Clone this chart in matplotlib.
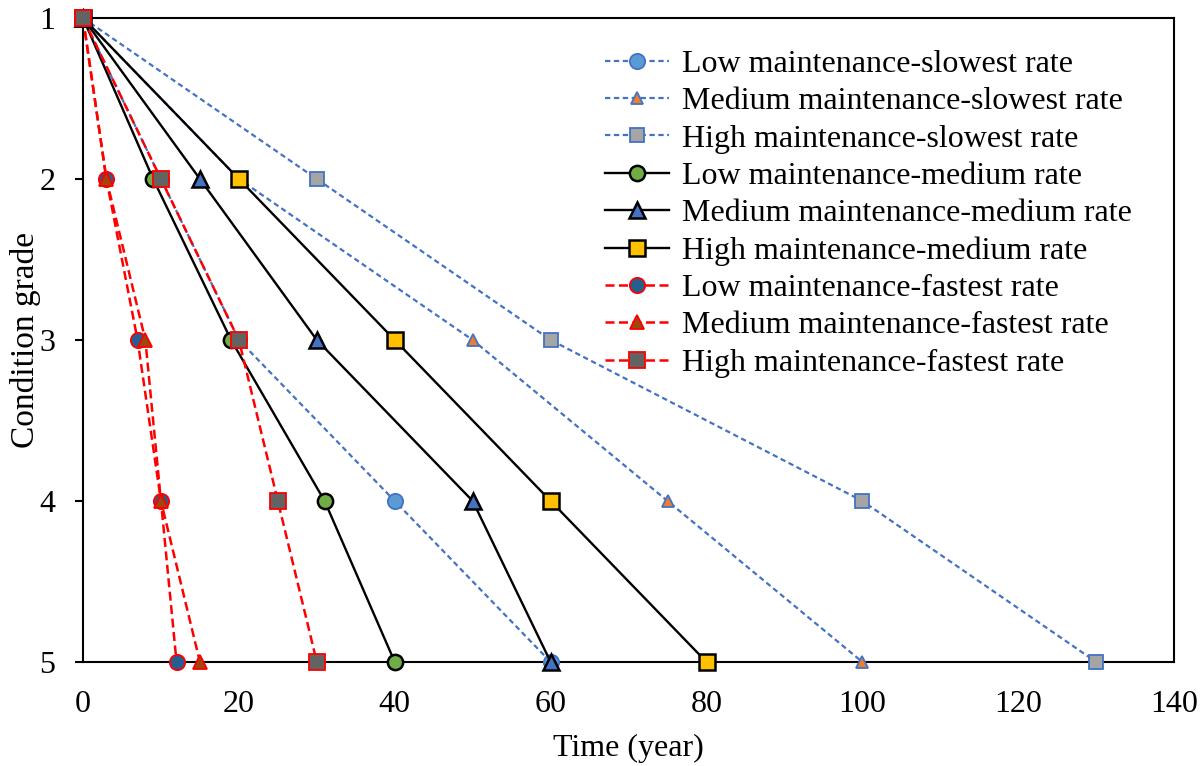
import matplotlib
matplotlib.use("Agg")
import matplotlib.pyplot as plt

plt.rcParams['font.family'] = ['Liberation Serif', 'DejaVu Serif']

grades = [1, 2, 3, 4, 5]

# Time (years) to reach each condition grade
low_slowest = [0, 10, 20, 40, 60]
medium_slowest = [0, 20, 50, 75, 100]
high_slowest = [0, 30, 60, 100, 130]
low_medium = [0, 9, 19, 31, 40]
medium_medium = [0, 15, 30, 50, 60]
high_medium = [0, 20, 40, 60, 80]
low_fastest = [0, 3, 7, 10, 12]
medium_fastest = [0, 3, 8, 10, 15]
high_fastest = [0, 10, 20, 25, 30]

x_ticks = [0, 20, 40, 60, 80, 100, 120, 140]
y_ticks = [1, 2, 3, 4, 5]

blue_dash = (0, (2.4, 1.6))
red_dash = (0, (3.6, 1.8))

series = [
    ("Low maintenance-slowest rate", low_slowest, dict(color="#4472C4", ls=blue_dash, lw=1.6,
        marker="o", mfc="#5B9BD5", mec="#4472C4", ms=11, mew=1.3)),
    ("Medium maintenance-slowest rate", medium_slowest, dict(color="#4472C4", ls=blue_dash, lw=1.6,
        marker="^", mfc="#ED7D31", mec="#4472C4", ms=9, mew=1.3)),
    ("High maintenance-slowest rate", high_slowest, dict(color="#4472C4", ls=blue_dash, lw=1.6,
        marker="s", mfc="#A5A5A5", mec="#4472C4", ms=10.5, mew=1.3)),
    ("Low maintenance-medium rate", low_medium, dict(color="black", ls="-", lw=1.7,
        marker="o", mfc="#70AD47", mec="black", ms=11, mew=1.8)),
    ("Medium maintenance-medium rate", medium_medium, dict(color="black", ls="-", lw=1.7,
        marker="^", mfc="#4472C4", mec="black", ms=11.5, mew=1.8)),
    ("High maintenance-medium rate", high_medium, dict(color="black", ls="-", lw=1.7,
        marker="s", mfc="#FFC000", mec="black", ms=11, mew=1.8)),
    ("Low maintenance-fastest rate", low_fastest, dict(color="#FF0000", ls=red_dash, lw=1.8,
        marker="o", mfc="#255E91", mec="#FF0000", ms=11, mew=1.3)),
    ("Medium maintenance-fastest rate", medium_fastest, dict(color="#FF0000", ls=red_dash, lw=1.8,
        marker="^", mfc="#9E480E", mec="#FF0000", ms=10, mew=1.3)),
    ("High maintenance-fastest rate", high_fastest, dict(color="#FF0000", ls=red_dash, lw=1.8,
        marker="s", mfc="#636363", mec="#FF0000", ms=11, mew=1.3)),
]

fig = plt.figure(figsize=(12.03, 7.66), dpi=100)
ax = fig.add_axes([0.069, 0.1358, 0.907, 0.8407])

for label, xs, style in series:
    ax.plot(xs, grades, label=label, clip_on=False, zorder=3, **style)

ax.set_xlim(0, 140)
ax.set_ylim(5, 1)
ax.set_xticks(x_ticks)
ax.set_yticks(y_ticks)
ax.tick_params(axis='x', length=0, pad=20, labelsize=23)
ax.tick_params(axis='y', length=6, width=1.5, pad=14, labelsize=23)
for sp in ax.spines.values():
    sp.set_linewidth(1.5)

ax.set_xlabel("Time (year)", fontsize=23, labelpad=11)
ax.set_ylabel("Condition grade", fontsize=24, labelpad=-1)

leg = ax.legend(loc="upper left", frameon=False, fontsize=23, handlelength=2.0,
                handletextpad=0.4, labelspacing=0.25, borderpad=0, borderaxespad=0,
                bbox_to_anchor=(0.4785, 0.951))

fig.savefig("out.png", dpi=100)
